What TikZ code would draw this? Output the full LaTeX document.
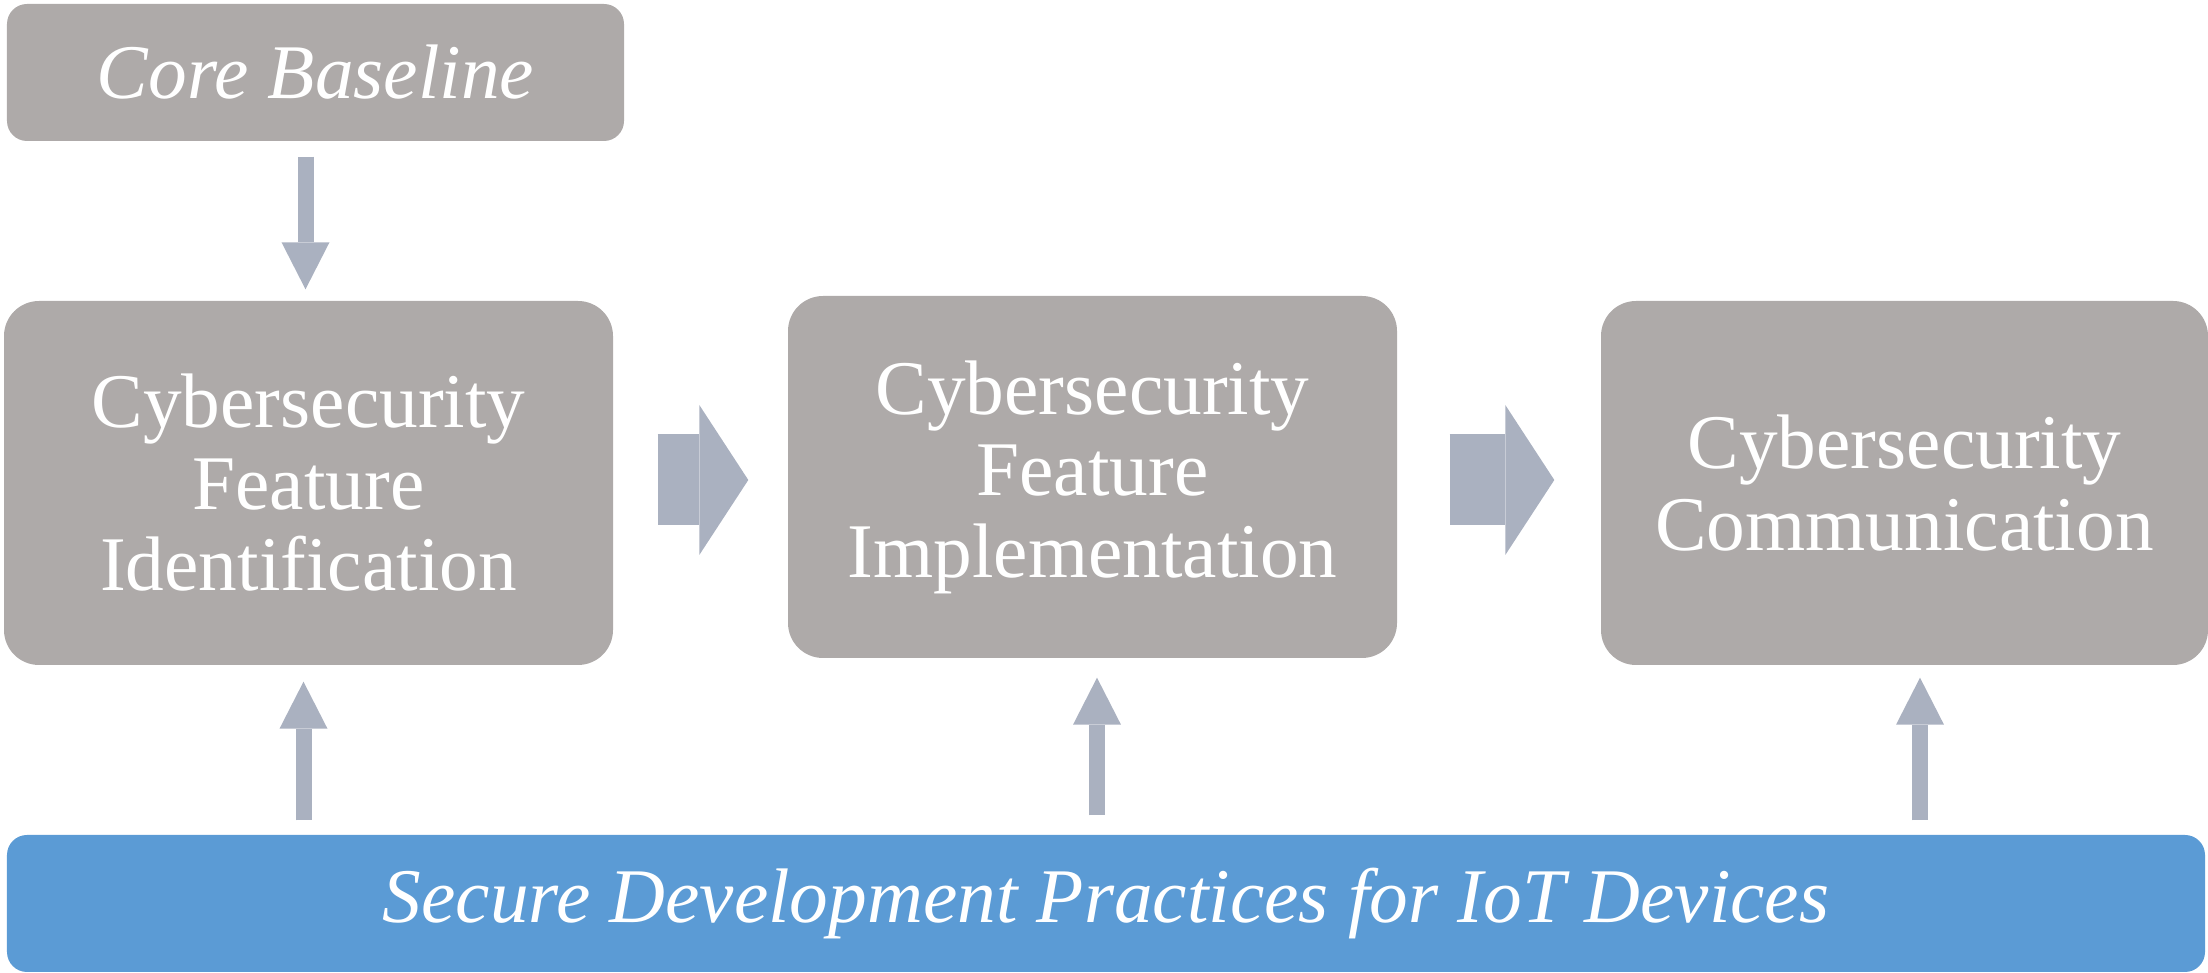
\documentclass[tikz,border=0pt]{standalone}
\usepackage{fontspec}
\setmainfont{Liberation Serif}
\usetikzlibrary{arrows.meta}
\definecolor{cajagris}{RGB}{174,170,169}
\definecolor{flechagris}{RGB}{170,177,192}
\definecolor{azulsdp}{RGB}{91,155,213}

\begin{document}
\begin{tikzpicture}[
  caja/.style={fill=cajagris,rounded corners=3.5mm,inner sep=0pt,align=center,text=white,font=\fontsize{22}{23.2}\selectfont},
  banda/.style={fill=#1,rounded corners=2mm,inner sep=0pt,text=white,font=\fontsize{22}{26}\selectfont\itshape},
  flechav/.style={draw=flechagris,line width=1.6mm,-{Triangle[length=4.7mm,width=4.8mm,line width=0pt]}},
  flechah/.style={draw=flechagris,line width=9.1mm,-{Triangle[length=4.9mm,width=15mm,line width=0pt]}}]
  \useasboundingbox (0,0) rectangle (22.08,9.73);
  % cajas
  \node[banda=cajagris,minimum width=6.17cm,minimum height=1.37cm] (base) at (3.155,9.005) {Core Baseline};
  \node[caja,minimum width=6.09cm,minimum height=3.64cm] (ident) at (3.085,4.90) {Cybersecurity\\Feature\\Identification};
  \node[caja,minimum width=6.09cm,minimum height=3.62cm] (impl) at (10.925,4.96) {Cybersecurity\\Feature\\Implementation};
  \node[caja,minimum width=6.07cm,minimum height=3.64cm] (comm) at (19.045,4.90) {Cybersecurity\\Communication};
  \node[banda=azulsdp,minimum width=21.98cm,minimum height=1.37cm] (sdp) at (11.06,0.695) {Secure Development Practices for IoT Devices};
  % flechas
  \draw[flechav,shorten <=1.5mm,shorten >=1.1mm] ([xshift=-0.3mm]base.south -| ident.north) -- ([xshift=-0.3mm]ident.north);
  \draw[flechah,shorten <=4.4mm,shorten >=3.9mm] ([yshift=0.3mm]ident.east) -- ([yshift=0.3mm]ident.east -| impl.west);
  \draw[flechah,shorten <=5.2mm,shorten >=4.6mm] ([yshift=-0.3mm]impl.east) -- ([yshift=-0.3mm]impl.east -| comm.west);
  \draw[flechav,shorten <=1.4mm,shorten >=1.6mm] ([xshift=-0.5mm]sdp.north -| ident.south) -- ([xshift=-0.5mm]ident.south);
  \draw[flechav,shorten <=1.9mm,shorten >=1.9mm] ([xshift=0.45mm]sdp.north -| impl.south) -- ([xshift=0.45mm]impl.south);
  \draw[flechav,shorten <=1.4mm,shorten >=1.2mm] ([xshift=1.55mm]sdp.north -| comm.south) -- ([xshift=1.55mm]comm.south);
\end{tikzpicture}
\end{document}
